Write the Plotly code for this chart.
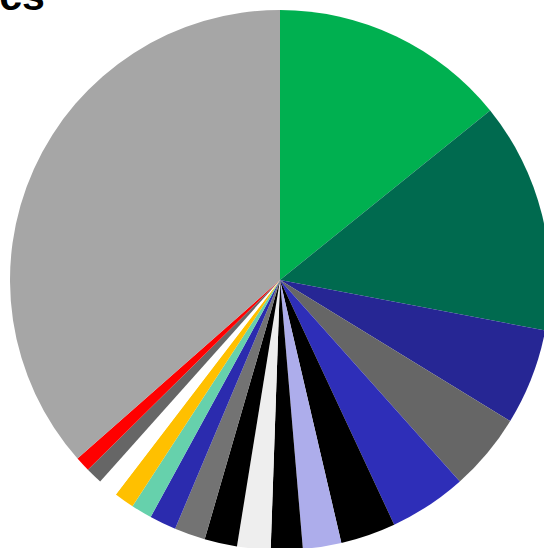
import plotly.graph_objects as go

labels = ["Group 1", "Group 2", "Group 3", "Group 4", "Group 5", "Group 6",
          "Group 7", "Group 8", "Group 9", "Group 10", "Group 11", "Group 12",
          "Group 13", "Group 14", "Group 15", "Group 16", "Group 17", "Group 18"]
values = [14.2, 13.8, 5.75, 4.65, 4.65, 3.3, 2.3, 1.9, 2.0, 1.95, 1.85, 1.6,
          1.25, 1.2, 1.2, 1.0, 0.9, 36.5]
colors = ["#00B050", "#006A4F", "#262694", "#666666", "#2E2EB8", "#000000",
          "#ADADEB", "#000000", "#EEEEEE", "#000000", "#737373", "#2B2BAE",
          "#66D1AC", "#FFC000", "#FFFFFF", "#666666", "#FF0000", "#A6A6A6"]
title_text = "Demographics"

W, H = 560, 560
fig = go.Figure(go.Pie(
    labels=labels, values=values, sort=False, direction="clockwise", rotation=0,
    marker=dict(colors=colors, line=dict(width=0)),
    textinfo="none", hoverinfo="label+percent",
    domain=dict(x=[10 / W, 550 / W], y=[10 / H, 550 / H]),
))
fig.add_annotation(
    text="<b>" + title_text + "</b>", xref="paper", yref="paper",
    x=47 / W, y=(H + 4) / H, xanchor="right", yanchor="middle",
    showarrow=False, font=dict(family="Arial", size=41, color="#000000"),
)
fig.update_layout(
    width=W, height=H, margin=dict(l=0, r=0, t=0, b=0),
    showlegend=False, paper_bgcolor="#FFFFFF", plot_bgcolor="#FFFFFF",
)
fig.write_html(
    "out.html",
    post_script="document.body.style.margin='0';document.body.style.overflow='hidden';"
                "document.documentElement.style.overflow='hidden';",
)
